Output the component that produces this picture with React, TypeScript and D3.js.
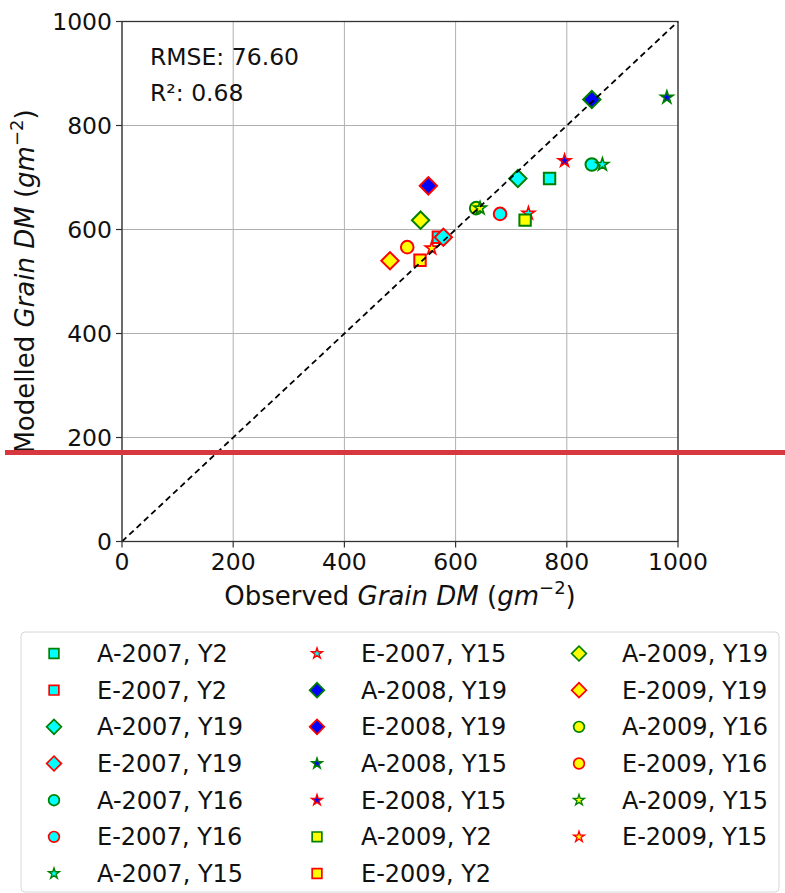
import React from "react";
import * as d3 from "d3";

// series, in the order they were plotted
const seriesNames = [
  "A-2007, Y2", "E-2007, Y2", "A-2007, Y19", "E-2007, Y19",
  "A-2007, Y16", "E-2007, Y16", "A-2007, Y15", "E-2007, Y15",
  "A-2008, Y19", "E-2008, Y19", "A-2008, Y15", "E-2008, Y15",
  "A-2009, Y2", "E-2009, Y2", "A-2009, Y19", "E-2009, Y19",
  "A-2009, Y16", "E-2009, Y16", "A-2009, Y15", "E-2009, Y15",
];
const observed = [769, 569, 712, 578, 845, 680, 864, 731, 845, 551, 980, 796, 725, 536, 537, 482, 637, 513, 644, 557];
const modelled = [698, 585, 698, 585, 725, 630, 725, 631, 850, 684, 854, 732, 618, 541, 618, 540, 641, 566, 641, 564];

const axisTicks = [0, 200, 400, 600, 800, 1000];
const rmse = "76.60";
const r2 = "0.68";

// marker style is read from the series name
const edgeBySite: Record<string, string> = { A: "#008000", E: "#ff0000" };
const fillByYear: Record<string, string> = { "2007": "#00ffff", "2008": "#0000ff", "2009": "#ffff00" };
const shapeByCode: Record<string, string> = { Y2: "square", Y19: "diamond", Y16: "circle", Y15: "star" };

const W = 785;
const H = 893;
const plot = { left: 122, right: 678, top: 21.5, bottom: 541.5 };
const font = "DejaVu Sans, sans-serif";

function styleOf(name: string) {
  const [siteYear, code] = name.split(", ");
  const [site, year] = siteYear.split("-");
  return { edge: edgeBySite[site], fill: fillByYear[year], shape: shapeByCode[code] };
}

function markerPath(shape: string) {
  if (shape === "square") return d3.symbol(d3.symbolSquare, 130)()!;
  if (shape === "diamond") return d3.symbol(d3.symbolSquare, 150)()!;
  if (shape === "circle") return d3.symbol(d3.symbolCircle, 125)()!;
  return d3.symbol(d3.symbolStar, 50)()!;
}

function Marker({ name, x, y }: { name: string; x: number; y: number }) {
  const s = styleOf(name);
  const rot = s.shape === "diamond" ? " rotate(45)" : "";
  return (
    <path
      d={markerPath(s.shape)}
      transform={`translate(${x},${y})${rot}`}
      fill={s.fill}
      stroke={s.edge}
      strokeWidth={s.shape === "star" ? 1.6 : 2}
      strokeLinejoin="miter"
    />
  );
}

export default function App() {
  const x = d3.scaleLinear().domain([0, 1000]).range([plot.left, plot.right]);
  const y = d3.scaleLinear().domain([0, 1000]).range([plot.bottom, plot.top]);
  const line = d3.line<number>().x((d) => x(d)).y((d) => y(d));

  const rows = 7;
  const colMarkerX = [54, 317, 579];
  const colTextX = [97, 361, 622];
  const rowY = (i: number) => 653.5 + i * 36.67;

  return (
    <div style={{ position: "absolute", left: 0, top: 0 }}>
      <svg width={W} height={H} style={{ display: "block", background: "#fff" }} fontFamily={font}>
        {/* grid */}
        <g stroke="#b0b0b0" strokeWidth={1}>
          {axisTicks.map((t) => (
            <line key={"gx" + t} x1={x(t)} x2={x(t)} y1={plot.top} y2={plot.bottom} />
          ))}
          {axisTicks.map((t) => (
            <line key={"gy" + t} x1={plot.left} x2={plot.right} y1={y(t)} y2={y(t)} />
          ))}
        </g>

        {/* points */}
        {seriesNames.map((n, i) => (
          <Marker key={n} name={n} x={x(observed[i])} y={y(modelled[i])} />
        ))}

        {/* 1:1 line */}
        <path d={line([0, 1000])!} stroke="#000" strokeWidth={1.8} strokeDasharray="6,4" fill="none" />

        {/* frame */}
        <rect
          x={plot.left}
          y={plot.top}
          width={plot.right - plot.left}
          height={plot.bottom - plot.top}
          fill="none"
          stroke="#333"
          strokeWidth={1.3}
        />

        {/* ticks */}
        <g stroke="#333" strokeWidth={1.2}>
          {axisTicks.map((t) => (
            <line key={"tx" + t} x1={x(t)} x2={x(t)} y1={plot.bottom} y2={plot.bottom + 6} />
          ))}
          {axisTicks.map((t) => (
            <line key={"ty" + t} x1={plot.left - 6} x2={plot.left} y1={y(t)} y2={y(t)} />
          ))}
        </g>
        <g fontSize={23.5} fill="#111">
          {axisTicks.map((t) => (
            <text key={"lx" + t} x={x(t)} y={plot.bottom + 28} textAnchor="middle">
              {t}
            </text>
          ))}
          {axisTicks.map((t) => (
            <text key={"ly" + t} x={plot.left - 10} y={y(t) + 8} textAnchor="end">
              {t}
            </text>
          ))}
        </g>

        {/* axis labels */}
        <text x={(plot.left + plot.right) / 2} y={605} textAnchor="middle" fontSize={26} fill="#111">
          Observed <tspan fontStyle="italic">Grain DM</tspan> (<tspan fontStyle="italic">gm</tspan>
          <tspan fontSize={18} dy={-11}>−2</tspan>
          <tspan dy={11}>)</tspan>
        </text>
        <text
          transform={`translate(34,${(plot.top + plot.bottom) / 2}) rotate(-90)`}
          textAnchor="middle"
          fontSize={26}
          fill="#111"
        >
          Modelled <tspan fontStyle="italic">Grain DM</tspan> (<tspan fontStyle="italic">gm</tspan>
          <tspan fontSize={18} dy={-11}>−2</tspan>
          <tspan dy={11}>)</tspan>
        </text>

        {/* stats */}
        <text x={150} y={65} fontSize={23.5} fill="#111">RMSE: {rmse}</text>
        <text x={150} y={101} fontSize={23.5} fill="#111">R²: {r2}</text>

        {/* legend */}
        <rect x={21} y={632} width={758} height={260} rx={4} fill="#fff" fillOpacity={0.8} stroke="#d6d6d6" strokeWidth={1} />
        {seriesNames.map((n, i) => {
          const c = Math.floor(i / rows);
          const r = i % rows;
          return (
            <g key={"leg" + n}>
              <g transform={`translate(${colMarkerX[c]},${rowY(r)}) scale(0.85)`}>
                <Marker name={n} x={0} y={0} />
              </g>
              <text x={colTextX[c]} y={rowY(r) + 8.5} fontSize={24} fill="#111">
                {n}
              </text>
            </g>
          );
        })}

        {/* red marker line across the figure */}
        <rect x={5} y={450} width={780} height={5} fill="#d7373f" />
      </svg>
    </div>
  );
}
